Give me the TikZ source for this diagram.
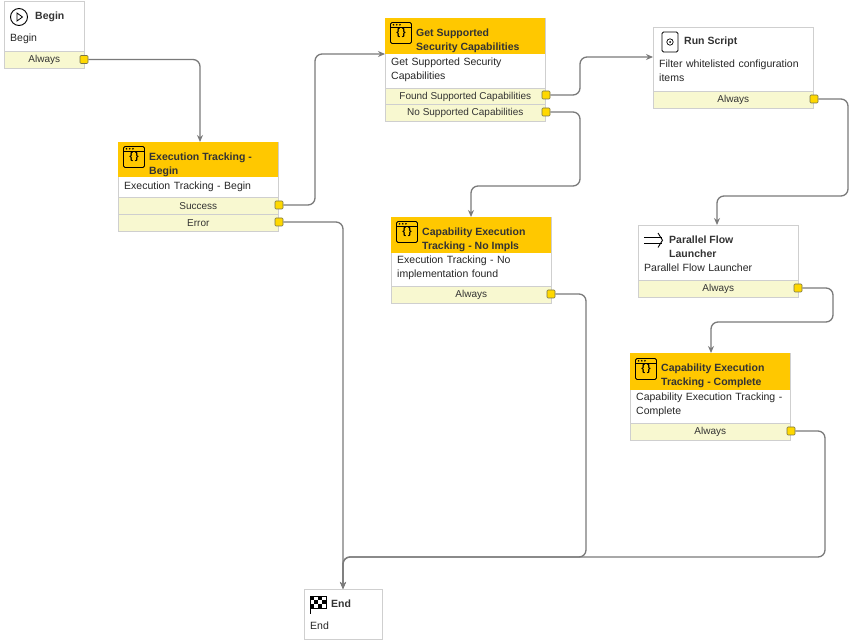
\documentclass[tikz,border=0pt]{standalone}
\usepackage{fontspec}
\setmainfont{Liberation Sans}
\usetikzlibrary{arrows.meta}
\definecolor{hdr}{HTML}{FFC800}
\definecolor{portrow}{HTML}{F8F8D0}
\definecolor{portsq}{HTML}{FFD800}
\definecolor{bord}{HTML}{CFCFCF}
\definecolor{wire}{HTML}{7A7A7A}
\tikzset{
 card/.style={draw=bord, fill=white, anchor=north west, inner sep=0, line width=0.8pt},
 hdrbox/.style={fill=hdr, anchor=north west, inner sep=0},
 prow/.style={draw=bord, fill=portrow, anchor=north west, inner sep=0, minimum height=17, line width=0.6pt, font=\fontsize{10}{11}\selectfont, text=black!80},
 psq/.style={draw=black!60!yellow, fill=portsq, minimum size=8, inner sep=0, rounded corners=1pt, line width=0.6pt},
 ttl/.style={anchor=west, align=left, font=\fontsize{10.5}{14}\selectfont\bfseries, text=black!80, inner sep=0},
 dsc/.style={anchor=north west, align=left, font=\fontsize{10.5}{14}\selectfont, text=black!85, inner sep=0, text width=158},
 wirestyle/.style={draw=wire, line width=1.3pt, rounded corners=7pt, -{Stealth[length=7pt,width=6pt]}},
 bracesicon/.style={draw=black, line width=0.9pt, rounded corners=1.5pt, minimum size=21, inner sep=0, font=\fontsize{10}{10}\selectfont\bfseries},
}
\newcommand{\braces}[2]{%
 \node[bracesicon] (#1) at (#2) {\raisebox{-2.5pt}{\{\,\}}};
 \fill ([xshift=3.5,yshift=-2.8]#1.north west) circle (0.9) ++(3.2,0) circle (0.9) ++(3.2,0) circle (0.9);
 \draw[line width=0.7pt] ([yshift=-5.5]#1.north west) -- ([yshift=-5.5]#1.north east);
}
\begin{document}
\begin{tikzpicture}[x=1pt,y=-1pt]
\useasboundingbox (0,0) rectangle (855,644);
% Begin
\node[card, minimum width=80, minimum height=66] (begin) at (4,1) {};
\draw[line width=0.9pt] (19,17) circle (8.5);
\draw[line width=0.8pt] (17,13) -- (22.5,17) -- (17,21) -- cycle;
\node[ttl] (begint) at (35,17) {Begin};
\node[dsc] (begind) at (10,34) {Begin};
\node[prow, minimum width=80] (beginp) at (4,51) {Always};
\node[psq] (beginq) at (84,59.5) {};
% Execution tracking
\node[card, minimum width=160, minimum height=89] (ex) at (118,142) {};
\node[hdrbox, minimum width=160, minimum height=35] (exh) at (118,142) {};
\braces{exi}{134,157}
\node[ttl] (ext) at (149,165) {Execution Tracking -\\Begin};
\node[dsc] (exd) at (124,182) {Execution Tracking - Begin};
\node[prow, minimum width=160] (exp1) at (118,197) {Success};
\node[prow, minimum width=160] (exp2) at (118,214) {Error};
\node[psq] (exq1) at (279,205) {};
\node[psq] (exq2) at (279,222) {};
% Get supported
\node[card, minimum width=160, minimum height=103] (gs) at (385,18) {};
\node[hdrbox, minimum width=160, minimum height=36] (gsh) at (385,18) {};
\braces{gsi}{401,33}
\node[ttl] (gst) at (416,41) {Get Supported\\Security Capabilities};
\node[dsc] (gsd) at (391,57.5) {Get Supported Security\\Capabilities};
\node[prow, minimum width=160] (gsp1) at (385,88) {Found Supported Capabilities};
\node[prow, minimum width=160] (gsp2) at (385,104) {No Supported Capabilities};
\node[psq] (gsq1) at (546,95) {};
\node[psq] (gsq2) at (546,112) {};
% Run script
\node[card, minimum width=160, minimum height=81] (rs) at (653,27) {};
\draw[line width=0.8pt, rounded corners=1.5pt] (662,32) -- (662,52) -- (678,52) -- (678,32) -- cycle;
\draw[line width=0.7pt] (670,42) circle (3.2);
\fill (670,42) circle (1);
\node[ttl] (rst) at (684,42) {Run Script};
\node[dsc] (rsd) at (659,60) {Filter whitelisted configuration\\items};
\node[prow, minimum width=160] (rsp) at (653,91) {Always};
\node[psq] (rsq) at (814,99) {};
% Cap no impls
\node[card, minimum width=160, minimum height=86] (ni) at (391,217) {};
\node[hdrbox, minimum width=160, minimum height=36] (nih) at (391,217) {};
\braces{nii}{407,232}
\node[ttl] (nit) at (422,240) {Capability Execution\\Tracking - No Impls};
\node[dsc] (nid) at (397,256) {Execution Tracking - No\\implementation found};
\node[prow, minimum width=160] (nip) at (391,286) {Always};
\node[psq] (niq) at (551,294) {};
% Parallel flow
\node[card, minimum width=160, minimum height=72] (pf) at (638,225) {};
\draw[line width=0.9pt] (644,237) -- (662,237) (644,243.5) -- (662,243.5);
\draw[line width=0.9pt] (658,233) -- (662.5,240.25) -- (658,247.5);
\node[ttl] (pft) at (669,247) {Parallel Flow\\Launcher};
\node[dsc] (pfd) at (644,264) {Parallel Flow Launcher};
\node[prow, minimum width=160] (pfp) at (638,280) {Always};
\node[psq] (pfq) at (798,288) {};
% Cap complete
\node[card, minimum width=160, minimum height=87] (cc) at (630,353) {};
\node[hdrbox, minimum width=160, minimum height=37] (cch) at (630,353) {};
\braces{cci}{646,369}
\node[ttl] (cct) at (661,376) {Capability Execution\\Tracking - Complete};
\node[dsc] (ccd) at (636,393) {Capability Execution Tracking -\\Complete};
\node[prow, minimum width=160] (ccp) at (630,423) {Always};
\node[psq] (ccq) at (791,431) {};
% End
\node[card, minimum width=78, minimum height=50] (en) at (304,589) {};
\foreach \i in {0,...,3} \foreach \j in {0,...,2} {
  \pgfmathtruncatemacro{\k}{mod(\i+\j,2)}
  \ifnum\k=0 \fill (310+\i*4,596+\j*4) rectangle ++(4,4); \fi }
\draw[line width=0.6pt] (310,596) rectangle (326,608);
\draw[line width=0.9pt] (310,596) -- (310,614);
\node[ttl] (ent) at (331,604) {End};
\node[dsc] (end) at (310,622) {End};
% wires
\draw[wirestyle] (beginq.east) -- (200,59.5) -- (ex.north west -| 200,0);
\draw[wirestyle] (exq1.east) -- (315,205) -- (315,54) -- (gs.west |- 0,54);
\draw[wirestyle] (exq2.east) -- (343,222) -- (en.north west -| 343,0);
\draw[wirestyle] (gsq1.east) -- (580,95) -- (580,57) -- (rs.west |- 0,57);
\draw[wirestyle] (gsq2.east) -- (580,112) -- (580,186) -- (471,186) -- (ni.north west -| 471,0);
\draw[wirestyle] (rsq.east) -- (848,99) -- (848,196) -- (717,196) -- (pf.north west -| 717,0);
\draw[wirestyle] (pfq.east) -- (833,288) -- (833,322) -- (711,322) -- (cc.north west -| 711,0);
\draw[wirestyle] (niq.east) -- (586,294) -- (586,557) -- (343,557) -- (en.north west -| 343,0);
\draw[wirestyle] (ccq.east) -- (825,431) -- (825,557) -- (343,557) -- (en.north west -| 343,0);
\end{tikzpicture}
\end{document}
